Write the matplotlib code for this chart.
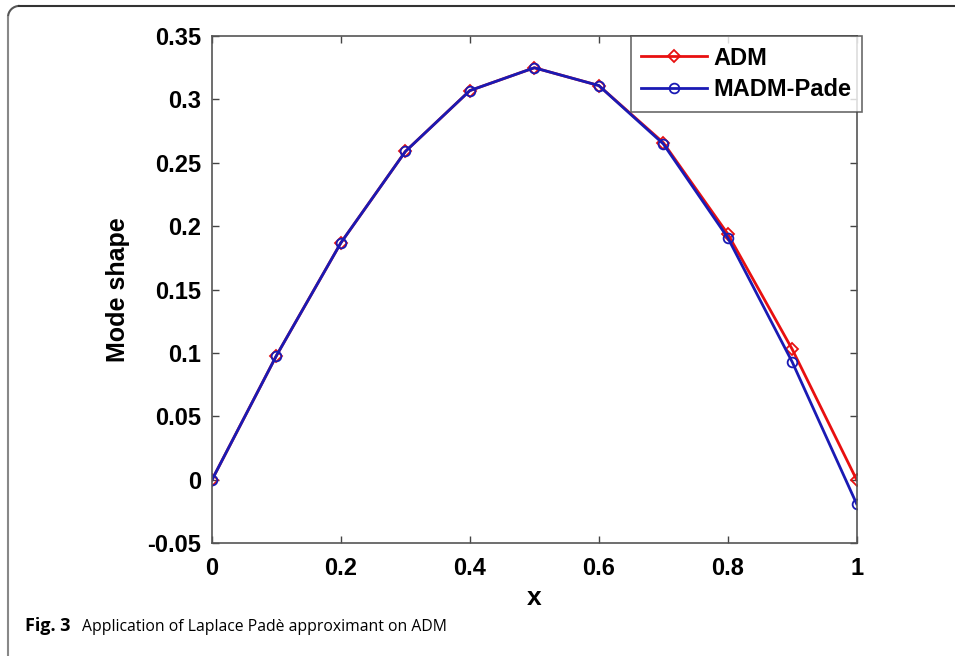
import numpy as np
import matplotlib
matplotlib.use('Agg')
import matplotlib.pyplot as plt
from matplotlib.lines import Line2D
from matplotlib.patches import Arc

x = [0, 0.1, 0.2, 0.3, 0.4, 0.5, 0.6, 0.7, 0.8, 0.9, 1.0]
adm = [0, 0.098, 0.187, 0.259, 0.307, 0.325, 0.311, 0.266, 0.194, 0.103, 0.0]
madm = [0, 0.098, 0.187, 0.259, 0.307, 0.325, 0.311, 0.265, 0.191, 0.093, -0.019]

xticks = [0, 0.2, 0.4, 0.6, 0.8, 1]
yticks = [-0.05, 0, 0.05, 0.1, 0.15, 0.2, 0.25, 0.3, 0.35]
ytick_labels = ['-0.05', '0', '0.05', '0.1', '0.15', '0.2', '0.25', '0.3', '0.35']

plt.rcParams['font.family'] = ['Liberation Sans', 'DejaVu Sans']

fig = plt.figure(figsize=(9.55, 6.56), dpi=100)
ax = fig.add_axes([0.222, 0.172, 0.675, 0.773])

ax.plot(x, adm, color='#e81010', lw=2, marker='D', ms=6, mfc='none', mew=1.3, label='ADM')
ax.plot(x, madm, color='#1a1ab4', lw=2, marker='o', ms=7, mfc='none', mew=1.3, label='MADM-Pade')

ax.set_xlim(0, 1)
ax.set_ylim(-0.05, 0.35)
ax.set_xticks(xticks)
ax.set_xticklabels([f'{t:g}' for t in xticks])
ax.set_yticks(yticks)
ax.set_yticklabels(ytick_labels)
ax.tick_params(direction='in', length=5, width=1, labelsize=17, top=True, right=True, color='#444444')
ax.tick_params(axis='x', pad=10)
ax.tick_params(axis='y', pad=8)
for lab in ax.get_xticklabels() + ax.get_yticklabels():
	lab.set_fontweight('bold')
for s in ax.spines.values():
	s.set_color('#555555')
	s.set_linewidth(1.2)

ax.set_xlabel('x', fontsize=19, fontweight='bold', labelpad=4)
ax.set_ylabel('Mode shape', fontsize=18, fontweight='bold', labelpad=12)

leg = ax.legend(loc='upper right', bbox_to_anchor=(1.008, 1.0), prop={'weight': 'bold', 'size': 17},
	frameon=True, fancybox=False, borderaxespad=0, handlelength=2.8, handletextpad=0.25,
	borderpad=0.45, labelspacing=0.35)
leg.get_frame().set_edgecolor('#444444')
leg.get_frame().set_linewidth(1.2)

# outer frame (top and left with a rounded corner)
fig.add_artist(Line2D([0.0084 + 0.012, 1.0], [0.991, 0.991], color='#333333', lw=1.5))
fig.add_artist(Line2D([0.0084, 0.0084], [0.0, 0.991 - 0.017], color='#888888', lw=1.5))
fig.add_artist(Arc((0.0084 + 0.012, 0.991 - 0.017), 0.024, 0.034, theta1=90, theta2=180,
	color='#555555', lw=1.5, transform=fig.transFigure))

fig.text(0.026, 0.038, 'Fig. 3', fontsize=13, fontweight='bold', family=['Open Sans', 'DejaVu Sans'])
fig.text(0.086, 0.038, 'Application of Laplace Padè approximant on ADM', fontsize=11.3,
	family=['Open Sans', 'DejaVu Sans'])

fig.savefig('out.png', dpi=100)
